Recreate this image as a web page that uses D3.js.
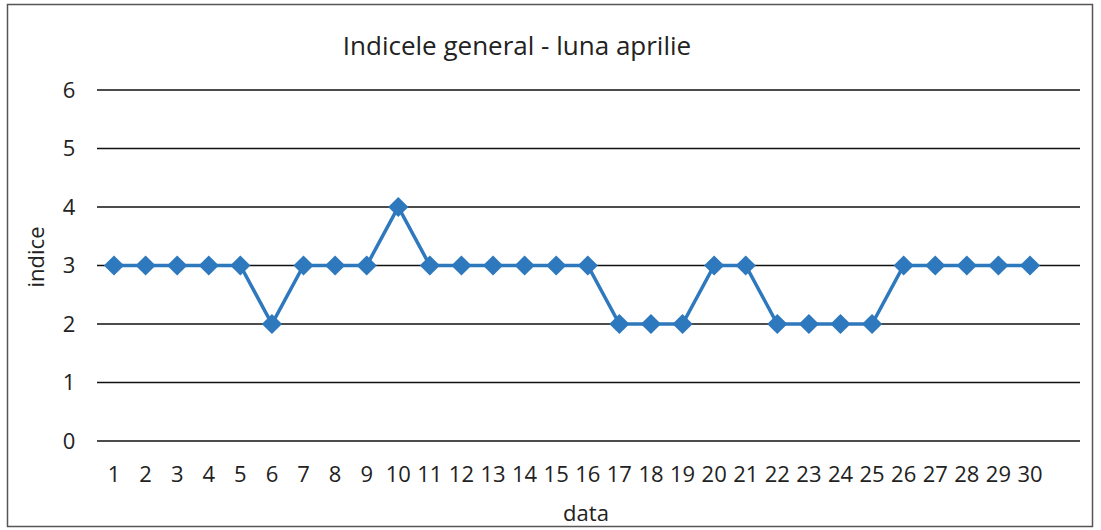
<!DOCTYPE html>
<html><head><meta charset="utf-8">
<script src="https://cdn.jsdelivr.net/npm/d3@7"></script>
<style>body{margin:0;background:#fff}svg{display:block}</style>
</head><body>
<svg id="c" width="1101" height="530"></svg>
<script>
const days = d3.range(1, 31);
const values = [3,3,3,3,3,2,3,3,3,4,3,3,3,3,3,3,2,2,2,3,3,2,2,2,2,3,3,3,3,3];
const yTicks = [0,1,2,3,4,5,6];
const title = "Indicele general - luna aprilie";
const xTitle = "data";
const yTitle = "indice";

const svg = d3.select("#c");
const font = "'Open Sans', 'Liberation Sans', sans-serif";
svg.append("rect").attr("x",7.5).attr("y",4.5).attr("width",1085).attr("height",522)
  .attr("fill","#fff").attr("stroke","#555").attr("stroke-width",1.5);

const x = d3.scalePoint().domain(days).range([114, 1030]);
const y = d3.scaleLinear().domain([0,6]).range([441, 90]);
const gridX0 = 97, gridX1 = 1080;

// gridlines
svg.append("g").selectAll("line").data(yTicks).join("line")
  .attr("x1", gridX0).attr("x2", gridX1)
  .attr("y1", d=>y(d)).attr("y2", d=>y(d))
  .attr("stroke","#111").attr("stroke-width",1.6);

// y labels
svg.append("g").selectAll("text").data(yTicks).join("text")
  .attr("x", 69).attr("y", d=>y(d)).attr("dy","0.35em")
  .attr("text-anchor","middle").attr("font-family",font).attr("font-size",22).attr("fill","#222")
  .text(d=>d);

// x labels
svg.append("g").selectAll("text").data(days).join("text")
  .attr("x", d=>x(d)).attr("y", 474).attr("dy","0.35em")
  .attr("text-anchor","middle").attr("font-family",font).attr("font-size",22).attr("fill","#222")
  .text(d=>d);

// line
const pts = days.map((d,i)=>({d, v: values[i]}));
svg.append("path").datum(pts)
  .attr("fill","none").attr("stroke","#2E78BD").attr("stroke-width",3.5)
  .attr("d", d3.line().x(p=>x(p.d)).y(p=>y(p.v)));

// diamonds
svg.append("g").selectAll("path").data(pts).join("path")
  .attr("transform", p=>`translate(${x(p.d)},${y(p.v)})`)
  .attr("d", d3.symbol().type(d3.symbolDiamond2).size(260))
  .attr("fill","#2E78BD");

// titles
svg.append("text").attr("x", 517).attr("y", 46).attr("dy","0.35em").attr("text-anchor","middle")
  .attr("font-family",font).attr("font-size",26).attr("fill","#222").text(title);
svg.append("text").attr("x", 586).attr("y", 513).attr("dy","0.35em").attr("text-anchor","middle")
  .attr("font-family",font).attr("font-size",22).attr("fill","#222").text(xTitle);
svg.append("text").attr("transform","translate(36,257) rotate(-90)").attr("dy","0.35em").attr("text-anchor","middle")
  .attr("font-family",font).attr("font-size",22).attr("fill","#222").text(yTitle);
</script>
</body></html>
